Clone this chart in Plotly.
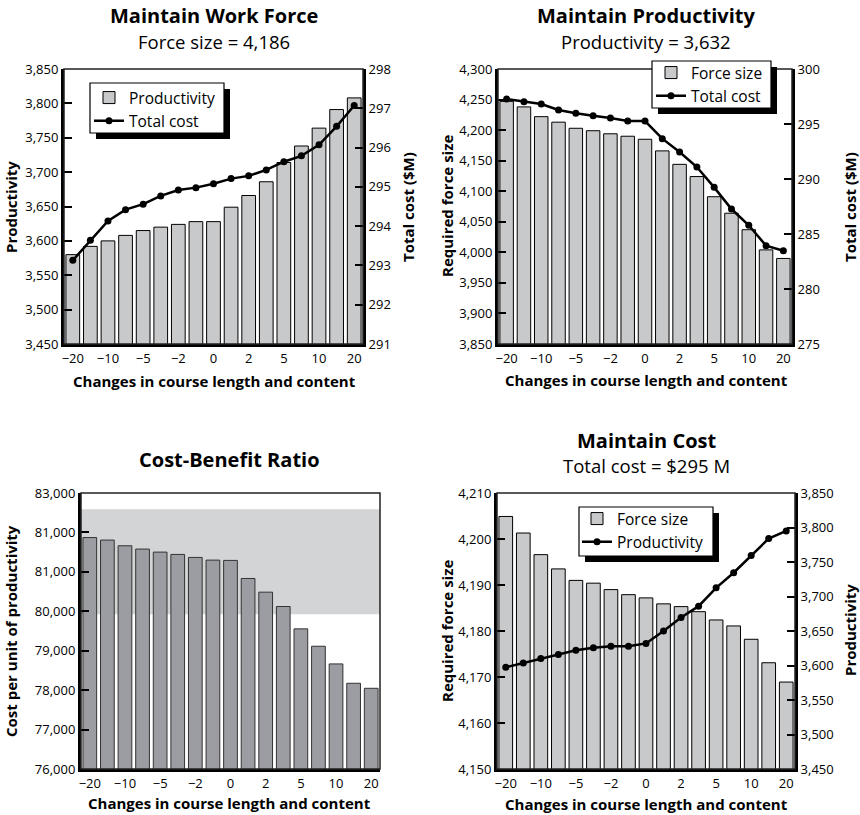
import plotly.graph_objects as go

# ---------------- data ----------------
x_tick_labels = ["−20", "", "−10", "", "−5", "", "−2", "", "0", "", "2", "", "5", "", "10", "", "20"]

# Panel 1: Maintain Work Force
p1_productivity = [3580, 3592, 3600, 3608, 3615, 3620, 3624, 3628, 3628, 3649, 3666, 3686, 3714, 3738, 3764, 3791, 3808]
p1_total_cost = [293.13, 293.64, 294.13, 294.42, 294.56, 294.77, 294.92, 294.98, 295.08, 295.21, 295.28, 295.43,
                 295.64, 295.79, 296.07, 296.54, 297.07]

# Panel 2: Maintain Productivity
p2_force_size = [4247, 4238, 4222, 4213, 4203, 4199, 4194, 4190, 4185, 4166, 4144, 4124, 4091, 4064, 4037, 4004, 3990]
p2_total_cost = [297.27, 297.03, 296.82, 296.27, 295.97, 295.76, 295.55, 295.27, 295.27, 293.67, 292.45, 291.09,
                 289.24, 287.27, 285.79, 283.94, 283.48]

# Panel 3: Cost-Benefit Ratio
p3_cost_per_unit = [81870, 81806, 81662, 81578, 81501, 81442, 81366, 81298, 81290, 80832, 80485, 80121,
                    79554, 79114, 78665, 78174, 78047]
p3_band = [79926, 82585]

# Panel 4: Maintain Cost
p4_force_size = [4204.9, 4201.3, 4196.6, 4193.5, 4191.0, 4190.4, 4189.0, 4187.9, 4187.2, 4185.9, 4185.3, 4184.2,
                 4182.4, 4181.1, 4178.2, 4173.1, 4168.9]
p4_productivity = [3597.5, 3603.8, 3610, 3616, 3622, 3625.6, 3628, 3628, 3632, 3650, 3669.6, 3686, 3712.6,
                   3734.4, 3759.6, 3784, 3795]

# tick labels
p1_left_ticks = [3450, 3500, 3550, 3600, 3650, 3700, 3750, 3800, 3850]
p1_right_ticks = [291, 292, 293, 294, 295, 296, 297, 298]
p2_left_ticks = [3850, 3900, 3950, 4000, 4050, 4100, 4150, 4200, 4250, 4300]
p2_right_ticks = [275, 280, 285, 290, 295, 300]
p3_left_ticks = [76000, 77000, 78000, 79000, 80000, 81000, 82000, 83000]
p3_left_ticktext = ["76,000", "77,000", "78,000", "79,000", "80,000", "81,000", "81,000", "83,000"]
p4_left_ticks = [4150, 4160, 4170, 4180, 4190, 4200, 4210]
p4_right_ticks = [3450, 3500, 3550, 3600, 3650, 3700, 3750, 3800, 3850]

# ---------------- styling ----------------
W, H = 860, 815
FONT = "Open Sans, Noto Sans, sans-serif"
BAR_LIGHT = "#c8c9cb"
BAR_DARK = "#9c9da2"
BAND = "#d3d4d6"

xs = list(range(len(x_tick_labels)))
tickvals_x = [i for i, t in enumerate(x_tick_labels) if t]
ticktext_x = [t for t in x_tick_labels if t]


def px_x(a, b):
    return [a / W, b / W]


def px_y(top, bottom):
    return [1 - bottom / H, 1 - top / H]


def fmt(v):
    return f"{v:,}"


fig = go.Figure()

line_style = dict(color="black", width=2.5)
marker_style = dict(color="black", size=7)

# Panel 1
fig.add_trace(go.Bar(x=xs, y=p1_productivity, name="Productivity", marker=dict(color=BAR_LIGHT, line=dict(color="black", width=1)),
                     xaxis="x", yaxis="y", legend="legend"))
fig.add_trace(go.Scatter(x=xs, y=p1_total_cost, name="Total cost", mode="lines+markers",
                         line=line_style, marker=marker_style, xaxis="x", yaxis="y2", legend="legend"))
# Panel 2
fig.add_trace(go.Bar(x=xs, y=p2_force_size, name="Force size", marker=dict(color=BAR_LIGHT, line=dict(color="black", width=1)),
                     xaxis="x2", yaxis="y3", legend="legend2"))
fig.add_trace(go.Scatter(x=xs, y=p2_total_cost, name="Total cost", mode="lines+markers",
                         line=line_style, marker=marker_style, xaxis="x2", yaxis="y4", legend="legend2"))
# Panel 3
fig.add_trace(go.Bar(x=xs, y=p3_cost_per_unit, name="Cost per unit", marker=dict(color=BAR_DARK, line=dict(color="#333333", width=1)),
                     xaxis="x3", yaxis="y5", showlegend=False))
# Panel 4
fig.add_trace(go.Bar(x=xs, y=p4_force_size, name="Force size", marker=dict(color=BAR_LIGHT, line=dict(color="black", width=1)),
                     xaxis="x4", yaxis="y6", legend="legend4"))
fig.add_trace(go.Scatter(x=xs, y=p4_productivity, name="Productivity", mode="lines+markers",
                         line=line_style, marker=marker_style, xaxis="x4", yaxis="y7", legend="legend4"))

tickfont = dict(family=FONT, size=13, color="black")


def xax(dom, anchor):
    return dict(domain=dom, anchor=anchor, range=[-0.5, len(xs) - 0.5], tickvals=tickvals_x, ticktext=ticktext_x,
                showline=True, linecolor="black", linewidth=3, ticks="", showgrid=False, zeroline=False,
                tickfont=tickfont, fixedrange=True, automargin=False)


def yax(dom, anchor, rng, ticks, texts=None, side="left", overlaying=None):
    d = dict(domain=dom, anchor=anchor, range=rng, tickvals=ticks, ticktext=texts or [fmt(t) for t in ticks],
             showline=True, linecolor="black", linewidth=3, ticks="inside", ticklen=8, tickwidth=2,
             tickcolor="black", showgrid=False, zeroline=False, tickfont=tickfont, side=side, automargin=False,
             fixedrange=True)
    if overlaying:
        d["overlaying"] = overlaying
    return d


d1x, d1y = px_x(64, 363), px_y(69, 344)
d2x, d2y = px_x(498, 792), px_y(69, 344)
d3x, d3y = px_x(81, 380), px_y(493, 769)
d4x, d4y = px_x(497, 795), px_y(493, 769)

legend_style = dict(bgcolor="rgba(0,0,0,0)", borderwidth=0, font=dict(family=FONT, size=15.5, color="black"),
                    xanchor="left", yanchor="top", traceorder="normal", itemwidth=30, tracegroupgap=0)

# legend: (entries left, entries top) and the framed box (l, t, r, b) in pixels
legends = {
    "legend": ((89, 81), (90, 83, 224, 133)),
    "legend2": ((651, 56), (652, 61, 771, 108)),
    "legend4": ((577, 502), (579, 507, 713, 556)),
}
SH = 6

fig.update_layout(
    width=W, height=H, margin=dict(l=0, r=0, t=0, b=0, autoexpand=False), paper_bgcolor="white", plot_bgcolor="white",
    font=dict(family=FONT, color="black"), bargap=0.22, showlegend=True,
    xaxis=xax(d1x, "y"),
    yaxis=yax(d1y, "x", [3450, 3850], p1_left_ticks),
    yaxis2=yax(d1y, "x", [291, 298], p1_right_ticks, side="right", overlaying="y"),
    xaxis2=xax(d2x, "y3"),
    yaxis3=yax(d2y, "x2", [3850, 4300], p2_left_ticks),
    yaxis4=yax(d2y, "x2", [275, 300], p2_right_ticks, side="right", overlaying="y3"),
    xaxis3=xax(d3x, "y5"),
    yaxis5=yax(d3y, "x3", [76000, 83000], p3_left_ticks, texts=p3_left_ticktext),
    xaxis4=xax(d4x, "y6"),
    yaxis6=yax(d4y, "x4", [4150, 4210], p4_left_ticks),
    yaxis7=yax(d4y, "x4", [3450, 3850], p4_right_ticks, side="right", overlaying="y6"),
)
for key, ((lx, ly), box) in legends.items():
    fig.update_layout({key: dict(legend_style, x=lx / W, y=1 - ly / H)})

shapes = []
# thin frames (top / right borders)
for xr, yr in [("x", "y"), ("x2", "y3"), ("x3", "y5"), ("x4", "y6")]:
    shapes.append(dict(type="rect", xref=f"{xr} domain", yref=f"{yr} domain", x0=0, x1=1, y0=0, y1=1,
                       line=dict(color="#222222", width=1.5), fillcolor="rgba(0,0,0,0)", layer="above"))
# band in cost-benefit panel
shapes.append(dict(type="rect", xref="x3 domain", yref="y5", x0=0, x1=1, y0=p3_band[0], y1=p3_band[1],
                   fillcolor=BAND, line=dict(width=0), layer="below"))
# legend drop shadows and white framed boxes
for (_, (l, t, r, b)) in legends.values():
    shapes.append(dict(type="rect", xref="paper", yref="paper", x0=(l + SH) / W, x1=(r + SH) / W,
                       y0=1 - (b + SH) / H, y1=1 - (t + SH) / H,
                       fillcolor="black", line=dict(width=0), layer="above"))
    shapes.append(dict(type="rect", xref="paper", yref="paper", x0=l / W, x1=r / W,
                       y0=1 - b / H, y1=1 - t / H,
                       fillcolor="white", line=dict(color="black", width=1.2), layer="above"))
fig.update_layout(shapes=shapes)

ann = []


def text(x, y, s, size, bold=False, angle=0):
    ann.append(dict(x=x / W, y=1 - y / H, xref="paper", yref="paper", text=f"<b>{s}</b>" if bold else s,
                    showarrow=False, textangle=angle, xanchor="center", yanchor="middle",
                    font=dict(family=FONT, size=size, color="black")))


TS, SS, AS = 20, 18.5, 15
# titles
text(214, 16, "Maintain Work Force", TS, True)
text(214, 41, "Force size = 4,186", SS)
text(646, 16, "Maintain Productivity", TS, True)
text(646, 41, "Productivity = 3,632", SS)
text(230, 460, "Cost-Benefit Ratio", TS, True)
text(646, 440, "Maintain Cost", TS, True)
text(646, 465, "Total cost = $295 M", SS)
# axis titles
xt = "Changes in course length and content"
text(214, 381, xt, AS, True)
text(646, 380, xt, AS, True)
text(230, 803, xt, AS, True)
text(646, 804, xt, AS, True)
text(11, 207, "Productivity", AS, True, -90)
text(408, 207, "Total cost ($M)", AS, True, -90)
text(447, 206, "Required force size", AS, True, -90)
text(850, 207, "Total cost ($M)", AS, True, -90)
text(11, 631, "Cost per unit of productivity", AS, True, -90)
text(447, 631, "Required force size", AS, True, -90)
text(850, 630, "Productivity", AS, True, -90)
fig.update_layout(annotations=ann)

fig.write_html("out.html", config={"displayModeBar": False},
               post_script="document.body.style.margin='0';document.body.style.overflow='hidden';")
